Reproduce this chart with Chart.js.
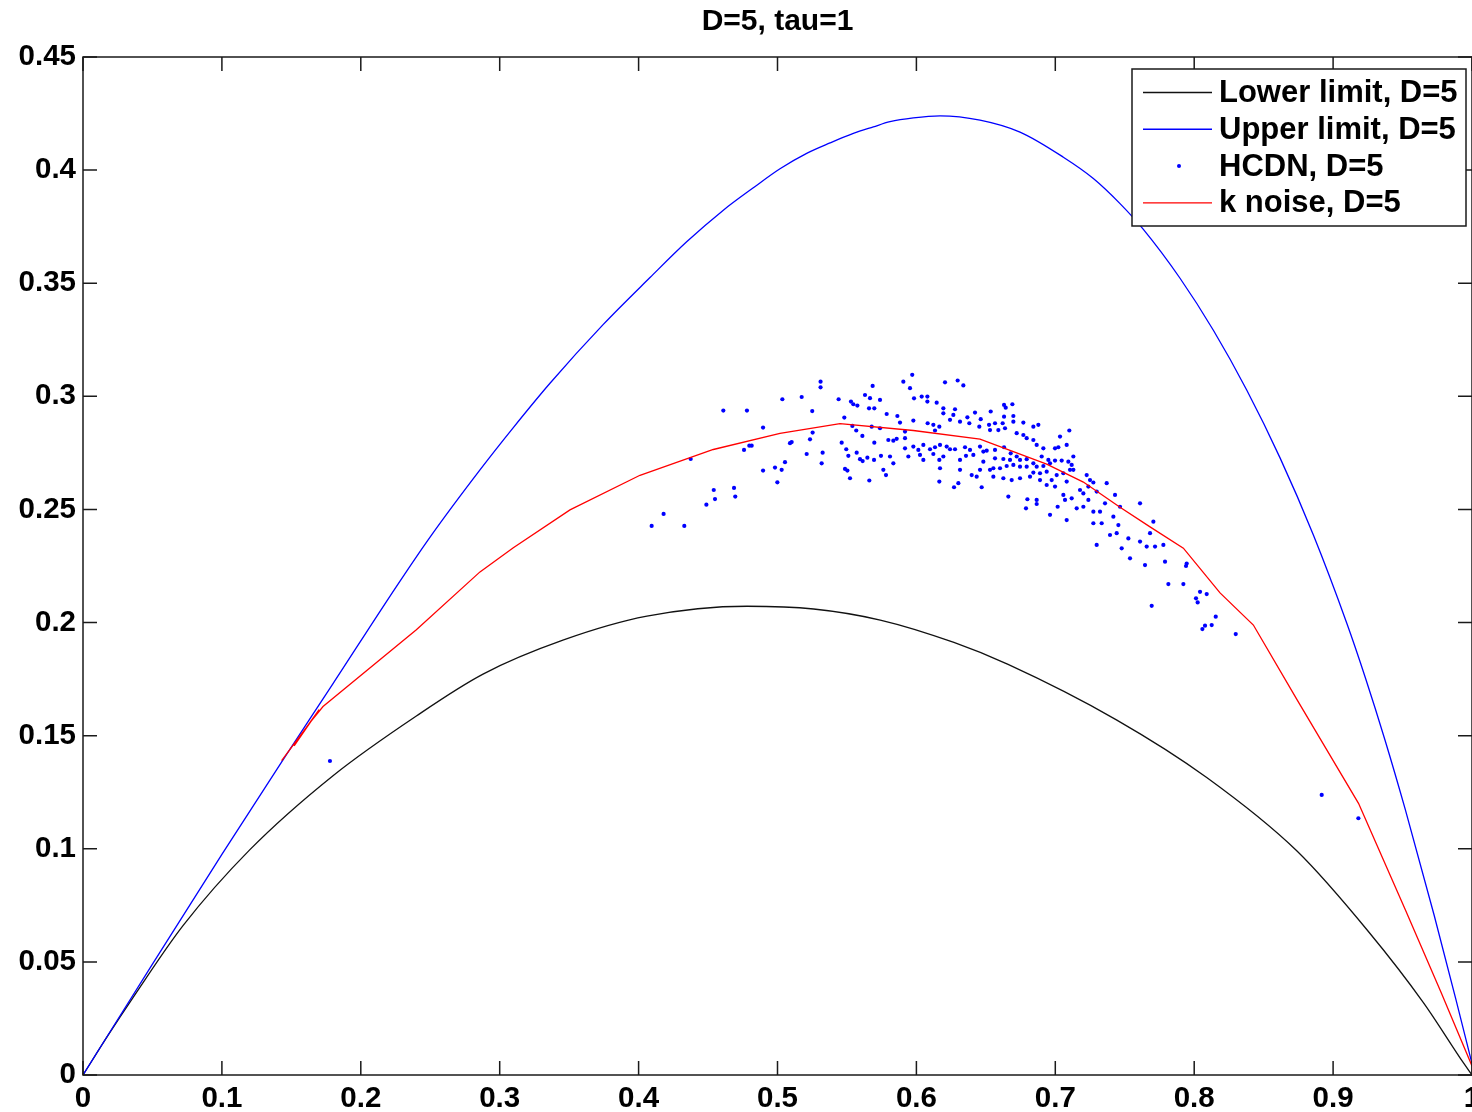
<!DOCTYPE html>
<html lang="en">
<head>
<meta charset="UTF-8">
<title>D=5, tau=1</title>
<style>
  body { margin: 0; background: #fff; }
  canvas { display: block; }
</style>
</head>
<body>
<canvas id="myChart" width="1472" height="1112"></canvas>
<script src="https://cdn.jsdelivr.net/npm/chart.js"></script>
<script>
"use strict"

const titleText = "D=5, tau=1"
const xTicks = [0, 0.1, 0.2, 0.3, 0.4, 0.5, 0.6, 0.7, 0.8, 0.9, 1]
const yTicks = [0, 0.05, 0.1, 0.15, 0.2, 0.25, 0.3, 0.35, 0.4, 0.45]

// lower limit (black)
const lowerX = [0, 0.018, 0.036, 0.072, 0.12, 0.18, 0.24, 0.288, 0.346, 0.406, 0.478, 0.526, 0.574, 0.627, 0.666, 0.744, 0.809, 0.874, 0.926, 0.965, 0.994, 1]
const lowerY = [0, 0.0175, 0.0342, 0.066, 0.0995, 0.1323, 0.1587, 0.1772, 0.1923, 0.2028, 0.2072, 0.206, 0.2011, 0.1912, 0.1815, 0.157, 0.1315, 0.099, 0.063, 0.032, 0.0052, 0]

// upper limit (blue)
const upperX = [0, 0.05, 0.1, 0.144, 0.18, 0.2256, 0.25, 0.2858, 0.3098, 0.3362, 0.3746, 0.4082, 0.4346, 0.461, 0.4826, 0.5018, 0.521, 0.5378, 0.5546, 0.569, 0.581, 0.5978, 0.617, 0.6458, 0.6746, 0.7058, 0.7274, 0.7466, 0.7634, 0.7898, 0.8138, 0.8378, 0.8618, 0.8858, 0.9098, 0.9234, 0.9374, 0.952, 0.9728, 0.9884, 1]
const upperY = [0, 0.049, 0.0975, 0.1393, 0.173, 0.2159, 0.2379, 0.2675, 0.2862, 0.3058, 0.3318, 0.3525, 0.3683, 0.3823, 0.3922, 0.4006, 0.4074, 0.412, 0.4162, 0.4191, 0.4214, 0.4231, 0.424, 0.4221, 0.4168, 0.4057, 0.3963, 0.3852, 0.3738, 0.3522, 0.3292, 0.3028, 0.2728, 0.2387, 0.1998, 0.1753, 0.148, 0.1173, 0.0705, 0.0334, 0.005]

// k noise (red)
const noiseX = [0.143, 0.160, 0.152, 0.166, 0.158, 0.170, 0.164, 0.1728, 0.24, 0.2858, 0.3098, 0.3506, 0.401, 0.4538, 0.5018, 0.545, 0.5978, 0.6458, 0.6938, 0.7202, 0.7466, 0.7682, 0.7922, 0.8186, 0.8426, 0.8741, 0.9183, 0.952, 0.978, 1]
const noiseY = [0.139, 0.153, 0.1455, 0.158, 0.1512, 0.1615, 0.1562, 0.1629, 0.1968, 0.2224, 0.2331, 0.2498, 0.2651, 0.2765, 0.2836, 0.2879, 0.2849, 0.2811, 0.27, 0.2621, 0.251, 0.2423, 0.2329, 0.2131, 0.1989, 0.1658, 0.1201, 0.073, 0.0361, 0.004]

// HCDN points [x, y]
const hcdnPoints = [
  [0.531,0.3065],[0.531,0.304],[0.5685,0.3046],[0.5035,0.2987],[0.5174,0.2997],[0.544,0.2987],
  [0.563,0.3006],[0.5666,0.2992],[0.5529,0.2977],[0.5546,0.2965],[0.5575,0.2959],[0.461,0.2937],
  [0.478,0.2937],[0.525,0.2935],[0.5659,0.2947],[0.5697,0.2947],[0.5481,0.2906],[0.4896,0.2862],
  [0.5539,0.2869],[0.5678,0.2866],[0.5253,0.284],[0.5567,0.2849],[0.5611,0.2825],[0.5234,0.281],
  [0.509,0.2793],[0.5102,0.2798],[0.4797,0.2782],[0.4814,0.2782],[0.4759,0.2763],[0.5462,0.2795],
  [0.5495,0.2766],[0.5697,0.2795],[0.4375,0.2723],[0.5325,0.2751],[0.521,0.2745],[0.557,0.2751],
  [0.551,0.2737],[0.5594,0.2722],[0.5613,0.2714],[0.5647,0.2729],[0.5695,0.2719],[0.5745,0.2737],
  [0.5054,0.2709],[0.4982,0.2685],[0.503,0.2675],[0.4896,0.2672],[0.5318,0.2704],[0.5486,0.2679],
  [0.5503,0.2672],[0.5522,0.2638],[0.5661,0.2628],[0.4999,0.262],[0.4541,0.2586],[0.4687,0.2595],
  [0.455,0.2546],[0.4696,0.2557],[0.4488,0.2521],[0.418,0.248],[0.4094,0.2427],[0.4329,0.2427],
  [0.597,0.3095],[0.5906,0.3065],[0.5954,0.3036],[0.6206,0.3062],[0.6297,0.307],[0.6338,0.3048],
  [0.5738,0.2984],[0.5983,0.2991],[0.6038,0.2999],[0.6079,0.2999],[0.6079,0.2977],[0.6146,0.2972],
  [0.6194,0.2947],[0.6194,0.2925],[0.6278,0.2943],[0.6266,0.2918],[0.5786,0.2922],[0.5863,0.2913],
  [0.5882,0.2884],[0.5978,0.2893],[0.6081,0.2881],[0.6122,0.2874],[0.6165,0.2866],[0.6134,0.2849],
  [0.6242,0.2896],[0.6314,0.2888],[0.6367,0.2907],[0.6422,0.2928],[0.6381,0.2881],[0.6463,0.2899],
  [0.6535,0.2933],[0.6631,0.2962],[0.6643,0.295],[0.6691,0.2965],[0.6631,0.291],[0.6698,0.2913],
  [0.6523,0.2874],[0.6566,0.2881],[0.6621,0.2881],[0.6453,0.2866],[0.653,0.2851],[0.659,0.2851],
  [0.6638,0.2859],[0.6698,0.2888],[0.677,0.2884],[0.6842,0.2866],[0.6878,0.2874],[0.6722,0.2837],
  [0.677,0.2829],[0.6794,0.2815],[0.6842,0.2807],[0.7101,0.2849],[0.7034,0.2822],[0.6998,0.277],
  [0.7022,0.2775],[0.7082,0.2785],[0.6866,0.2785],[0.6914,0.277],[0.6902,0.2734],[0.695,0.2719],
  [0.6998,0.2716],[0.7046,0.2716],[0.7094,0.2711],[0.713,0.2734],[0.7118,0.2697],[0.713,0.2675],
  [0.5738,0.2859],[0.5918,0.2844],[0.5918,0.2815],[0.5918,0.277],[0.5798,0.2807],[0.5834,0.2804],
  [0.5858,0.2812],[0.5978,0.2778],[0.6014,0.2763],[0.605,0.2785],[0.6098,0.2766],[0.6134,0.2775],
  [0.617,0.2785],[0.6218,0.2778],[0.6242,0.2766],[0.6278,0.2766],[0.635,0.2775],[0.6357,0.2737],
  [0.6386,0.2763],[0.6458,0.2778],[0.6482,0.2756],[0.6506,0.276],[0.6566,0.2763],[0.6631,0.2775],
  [0.6679,0.2748],[0.6122,0.2745],[0.6165,0.2719],[0.6194,0.2734],[0.605,0.2719],[0.6026,0.2741],
  [0.5942,0.2734],[0.581,0.2734],[0.5834,0.2704],[0.5762,0.2675],[0.5781,0.2652],[0.6314,0.2719],
  [0.641,0.2741],[0.6566,0.2726],[0.6626,0.2723],[0.6674,0.2719],[0.6722,0.2734],[0.6746,0.2719],
  [0.6794,0.2722],[0.6842,0.2704],[0.6866,0.2689],[0.6914,0.2692],[0.6962,0.2704],[0.6938,0.2667],
  [0.689,0.266],[0.6842,0.2663],[0.6794,0.2689],[0.6746,0.2689],[0.6698,0.2697],[0.665,0.2692],
  [0.6602,0.2682],[0.6554,0.2682],[0.653,0.2675],[0.6482,0.2711],[0.6458,0.2675],[0.6434,0.2645],
  [0.6398,0.2652],[0.617,0.2682],[0.6314,0.2675],[0.6165,0.2623],[0.6271,0.2598],[0.6302,0.2616],
  [0.647,0.2598],[0.6554,0.2645],[0.6626,0.2638],[0.6686,0.263],[0.6746,0.2638],[0.6818,0.2645],
  [0.689,0.263],[0.6938,0.2608],[0.6974,0.263],[0.6998,0.2601],[0.701,0.2652],[0.7058,0.266],
  [0.7106,0.2675],[0.7226,0.2652],[0.725,0.263],[0.7274,0.2619],[0.7178,0.2586],[0.7202,0.2571],
  [0.7238,0.2601],[0.7298,0.2579],[0.737,0.2616],[0.743,0.2564],[0.7466,0.2512],[0.7358,0.2527],
  [0.7322,0.249],[0.7274,0.249],[0.7274,0.2439],[0.7334,0.2439],[0.7418,0.2468],[0.7454,0.2431],
  [0.7394,0.2387],[0.7442,0.2395],[0.7526,0.2372],[0.761,0.2527],[0.7706,0.2446],[0.7682,0.2395],
  [0.761,0.2358],[0.7658,0.2336],[0.7718,0.2336],[0.7778,0.2343],[0.7298,0.2343],[0.7478,0.2328],
  [0.7538,0.2284],[0.6662,0.2557],[0.6799,0.2545],[0.6866,0.2542],[0.6866,0.2524],[0.6789,0.2505],
  [0.6962,0.2476],[0.7017,0.2512],[0.7058,0.2564],[0.707,0.2542],[0.7082,0.2453],[0.7118,0.2549],
  [0.7154,0.2505],[0.7202,0.2512],[0.7238,0.2542],[0.7082,0.2623],
  [0.7646,0.2254],[0.779,0.2269],[0.7941,0.225],[0.7946,0.2261],[0.7814,0.217],[0.7922,0.217],
  [0.7694,0.2074],[0.8042,0.2136],[0.809,0.2126],[0.8013,0.2107],[0.8025,0.2089],[0.8155,0.2026],
  [0.8126,0.1989],[0.8078,0.1986],[0.8059,0.1971],[0.8299,0.1949],
  [0.1778,0.1388],[0.8918,0.1238],[0.9182,0.1135]
]

const fontFamily = "'Liberation Sans', Arial, sans-serif"
const tickLen = 14

function toPoints(xs, ys) {
  return xs.map((x, i) => ({ x: x, y: ys[i] }))
}

// box + inward ticks, matlab style
const boxPlugin = {
  id: 'matlabBox',
  afterDatasetsDraw(chart) {
    const { ctx, chartArea: a, scales } = chart
    ctx.save()
    ctx.strokeStyle = '#1a1a1a'
    ctx.lineWidth = 1.5
    ctx.strokeRect(a.left, a.top, a.right - a.left, a.bottom - a.top)
    ctx.beginPath()
    xTicks.forEach(v => {
      const px = scales.x.getPixelForValue(v)
      ctx.moveTo(px, a.bottom); ctx.lineTo(px, a.bottom - tickLen)
      ctx.moveTo(px, a.top); ctx.lineTo(px, a.top + tickLen)
    })
    yTicks.forEach(v => {
      const py = scales.y.getPixelForValue(v)
      ctx.moveTo(a.left, py); ctx.lineTo(a.left + tickLen, py)
      ctx.moveTo(a.right, py); ctx.lineTo(a.right - tickLen, py)
    })
    ctx.stroke()
    ctx.restore()
  }
}

// legend box inside the plot, top right
const legendPlugin = {
  id: 'boxLegend',
  afterDraw(chart) {
    const { ctx, chartArea: a } = chart
    const w = 334, h = 157
    const left = a.right - 6 - w
    const top = a.top + 12
    ctx.save()
    ctx.fillStyle = '#fff'
    ctx.fillRect(left, top, w, h)
    ctx.strokeStyle = '#1a1a1a'
    ctx.lineWidth = 1.5
    ctx.strokeRect(left, top, w, h)
    ctx.font = "bold 31px " + fontFamily
    ctx.textBaseline = 'middle'
    chart.data.datasets.forEach((ds, i) => {
      const y = top + 23.5 + i * 36.8
      if (ds.showLine) {
        ctx.strokeStyle = ds.borderColor
        ctx.lineWidth = 1.4
        ctx.beginPath()
        ctx.moveTo(left + 11, y)
        ctx.lineTo(left + 80, y)
        ctx.stroke()
      } else {
        ctx.fillStyle = ds.backgroundColor
        ctx.beginPath()
        ctx.arc(left + 47, y, 2, 0, Math.PI * 2)
        ctx.fill()
      }
      ctx.fillStyle = '#000'
      ctx.fillText(ds.label, left + 87, y + 1)
    })
    ctx.restore()
  }
}

const ctx = document.getElementById('myChart')

const graph = new Chart(ctx, {
  type: 'scatter',
  data: {
    datasets: [
      {
        label: 'Lower limit, D=5',
        data: toPoints(lowerX, lowerY),
        showLine: true,
        borderColor: '#111111',
        borderWidth: 1.3,
        pointRadius: 0,
        cubicInterpolationMode: 'monotone',
        order: 3
      },
      {
        label: 'Upper limit, D=5',
        data: toPoints(upperX, upperY),
        showLine: true,
        borderColor: '#0000ff',
        borderWidth: 1.3,
        pointRadius: 0,
        cubicInterpolationMode: 'monotone',
        order: 2
      },
      {
        label: 'HCDN, D=5',
        data: hcdnPoints.map(p => ({ x: p[0], y: p[1] })),
        showLine: false,
        backgroundColor: '#0000ff',
        borderColor: '#0000ff',
        borderWidth: 0,
        pointRadius: 2.1,
        order: 1
      },
      {
        label: 'k noise, D=5',
        data: toPoints(noiseX, noiseY),
        showLine: true,
        borderColor: '#ff0000',
        borderWidth: 1.3,
        pointRadius: 0,
        tension: 0,
        order: 0
      }
    ]
  },
  options: {
    responsive: false,
    animation: false,
    layout: { padding: 0, autoPadding: false },
    plugins: {
      legend: { display: false },
      tooltip: { enabled: false },
      title: {
        display: true,
        text: titleText,
        fullSize: false,
        color: '#000',
        font: { family: fontFamily, size: 30, weight: 'bold' },
        padding: { top: 4, bottom: 17 }
      }
    },
    scales: {
      x: {
        type: 'linear',
        min: 0,
        max: 1,
        grid: { display: false, drawTicks: false },
        border: { display: false },
        afterBuildTicks: s => { s.ticks = xTicks.map(v => ({ value: v })) },
        afterFit: s => { s.height = 37; s.paddingLeft = 0; s.paddingRight = 0 },
        ticks: {
          color: '#000',
          padding: 6,
          maxRotation: 0,
          autoSkip: false,
          font: { family: fontFamily, size: 29.5, weight: 'bold' },
          callback: v => String(v)
        }
      },
      y: {
        type: 'linear',
        min: 0,
        max: 0.45,
        grid: { display: false, drawTicks: false },
        border: { display: false },
        afterBuildTicks: s => { s.ticks = yTicks.map(v => ({ value: v })) },
        afterFit: s => { s.width = 83; s.paddingTop = 0; s.paddingBottom = 0 },
        ticks: {
          color: '#000',
          padding: 7,
          autoSkip: false,
          font: { family: fontFamily, size: 29.5, weight: 'bold' },
          callback: v => String(v)
        }
      }
    }
  },
  plugins: [boxPlugin, legendPlugin]
})
</script>
</body>
</html>
